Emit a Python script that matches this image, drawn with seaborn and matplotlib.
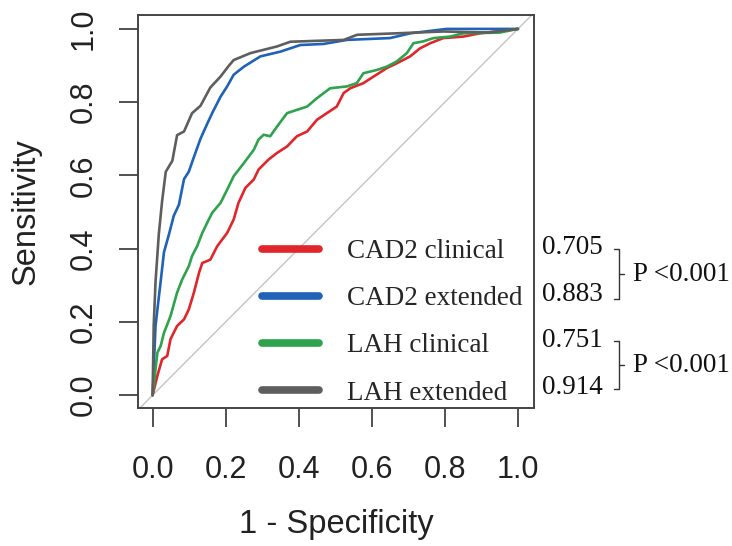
import numpy as np
import pandas as pd
import matplotlib
matplotlib.use("Agg")
import matplotlib.pyplot as plt
import seaborn as sns

# ---- data ----
lah_ext_x = [0, 0.003, 0.008, 0.017, 0.026, 0.036, 0.054, 0.067, 0.086, 0.108, 0.131, 0.158, 0.186, 0.209, 0.222, 0.268, 0.304, 0.34, 0.377, 0.523, 0.56, 0.668, 0.796, 0.92, 1.0]
lah_ext_y = [0, 0.19, 0.31, 0.44, 0.53, 0.61, 0.64, 0.71, 0.72, 0.77, 0.79, 0.84, 0.87, 0.90, 0.915, 0.934, 0.943, 0.952, 0.965, 0.97, 0.984, 0.988, 0.993, 0.99, 1.0]

cad_ext_x = [0, 0.008, 0.022, 0.031, 0.045, 0.058, 0.072, 0.086, 0.099, 0.113, 0.131, 0.149, 0.163, 0.186, 0.204, 0.222, 0.25, 0.295, 0.35, 0.404, 0.468, 0.532, 0.65, 0.705, 0.805, 1.0]
cad_ext_y = [0, 0.19, 0.31, 0.39, 0.44, 0.49, 0.52, 0.59, 0.61, 0.65, 0.70, 0.74, 0.77, 0.815, 0.843, 0.875, 0.897, 0.925, 0.938, 0.956, 0.959, 0.97, 0.975, 0.988, 1.0, 1.0]

lah_cli_x = [0, 0.004, 0.013, 0.022, 0.031, 0.049, 0.067, 0.081, 0.099, 0.108, 0.122, 0.136, 0.149, 0.163, 0.186, 0.204, 0.222, 0.25, 0.277, 0.29, 0.304, 0.322, 0.341, 0.368, 0.395, 0.423, 0.45, 0.486, 0.532, 0.559, 0.577, 0.614, 0.641, 0.668, 0.696, 0.714, 0.741, 0.769, 0.814, 0.85, 0.95, 1.0]
lah_cli_y = [0, 0.035, 0.116, 0.134, 0.17, 0.216, 0.28, 0.316, 0.352, 0.38, 0.407, 0.443, 0.47, 0.498, 0.525, 0.561, 0.598, 0.634, 0.67, 0.698, 0.711, 0.707, 0.734, 0.77, 0.779, 0.788, 0.811, 0.838, 0.843, 0.852, 0.879, 0.888, 0.897, 0.911, 0.934, 0.961, 0.966, 0.975, 0.979, 0.988, 0.99, 1.0]

cad_cli_x = [0, 0.013, 0.026, 0.04, 0.049, 0.067, 0.086, 0.099, 0.113, 0.127, 0.136, 0.158, 0.177, 0.204, 0.222, 0.235, 0.254, 0.277, 0.29, 0.317, 0.34, 0.368, 0.395, 0.423, 0.45, 0.477, 0.504, 0.523, 0.541, 0.577, 0.605, 0.641, 0.668, 0.705, 0.732, 0.76, 0.796, 0.85, 0.896, 1.0]
cad_cli_y = [0, 0.053, 0.098, 0.107, 0.153, 0.189, 0.207, 0.234, 0.28, 0.334, 0.361, 0.37, 0.407, 0.443, 0.48, 0.525, 0.566, 0.589, 0.616, 0.643, 0.661, 0.679, 0.707, 0.72, 0.752, 0.77, 0.788, 0.825, 0.838, 0.852, 0.87, 0.893, 0.906, 0.925, 0.947, 0.961, 0.975, 0.979, 0.988, 1.0]

labels = ["CAD2 clinical", "CAD2 extended", "LAH clinical", "LAH extended"]
aucs = ["0.705", "0.883", "0.751", "0.914"]
p_labels = ["P <0.001", "P <0.001"]
ticks = [0.0, 0.2, 0.4, 0.6, 0.8, 1.0]
tick_labels = ["0.0", "0.2", "0.4", "0.6", "0.8", "1.0"]

colors = ["#e0262b", "#1f63b8", "#2ea24c", "#5e5e5e"]

series = [(cad_cli_x, cad_cli_y), (cad_ext_x, cad_ext_y), (lah_cli_x, lah_cli_y), (lah_ext_x, lah_ext_y)]

sns.set_style("white")
plt.rcParams["font.family"] = ["Liberation Sans", "DejaVu Sans"]

fig = plt.figure(figsize=(7.32, 5.46), dpi=100)
ax = fig.add_axes([138/732, 1-408/546, 396/732, 393/546])

ax.axline((0, 0), (1, 1), color="#c4c4c4", lw=1.0, zorder=1)

for (xs, ys), lab, col in zip(series, labels, colors):
    df = pd.DataFrame({"x": xs, "y": ys})
    sns.lineplot(data=df, x="x", y="y", sort=False, estimator=None, color=col,
                 lw=1.9, label=lab, ax=ax, zorder=3)

ax.set_xlim(-0.04, 1.044)
ax.set_ylim(-0.035, 1.038)
ax.set_xticks(ticks)
ax.set_xticklabels(tick_labels)
ax.set_yticks(ticks)
ax.set_yticklabels(tick_labels, rotation=90, va="center")
ax.tick_params(axis="both", direction="out", length=14, width=1.2, color="#333333",
               labelsize=22, labelcolor="#222222", left=True, bottom=True)
ax.tick_params(axis="x", pad=20)
ax.tick_params(axis="y", pad=14)
for s in ax.spines.values():
    s.set_color("#444444")
    s.set_linewidth(1.4)
ax.set_xlabel("1 - Specificity", fontsize=23.5, color="#222222", labelpad=17)
ax.set_ylabel("Sensitivity", fontsize=23.5, color="#222222", labelpad=20)

leg = ax.legend(loc="upper left", bbox_to_anchor=(0.313, 0.43), frameon=False,
                prop={"family": "Liberation Serif", "size": 19.5},
                handlelength=2.1, handletextpad=1.05, labelspacing=0.82,
                borderpad=0, borderaxespad=0)
for h in leg.get_lines():
    h.set_linewidth(5.5)

ys_leg = [0.403, 0.275, 0.150, 0.022]
for yv, a in zip(ys_leg, aucs):
    ax.text(1.066, yv, a, fontsize=19.5, family="Liberation Serif", va="center",
            ha="left", clip_on=False, color="#111111")

for (top, bot), p in zip([(0.398, 0.262), (0.147, 0.016)], p_labels):
    mid = (top + bot) / 2
    kw = dict(color="#333333", lw=1.0, clip_on=False)
    ax.plot([1.262, 1.276, 1.276, 1.262], [top, top, bot, bot], **kw)
    ax.plot([1.276, 1.29], [mid, mid], **kw)
    ax.text(1.314, mid, p, fontsize=19.5, family="Liberation Serif", va="center",
            ha="left", clip_on=False, color="#111111")

fig.savefig("out.png", dpi=100)
